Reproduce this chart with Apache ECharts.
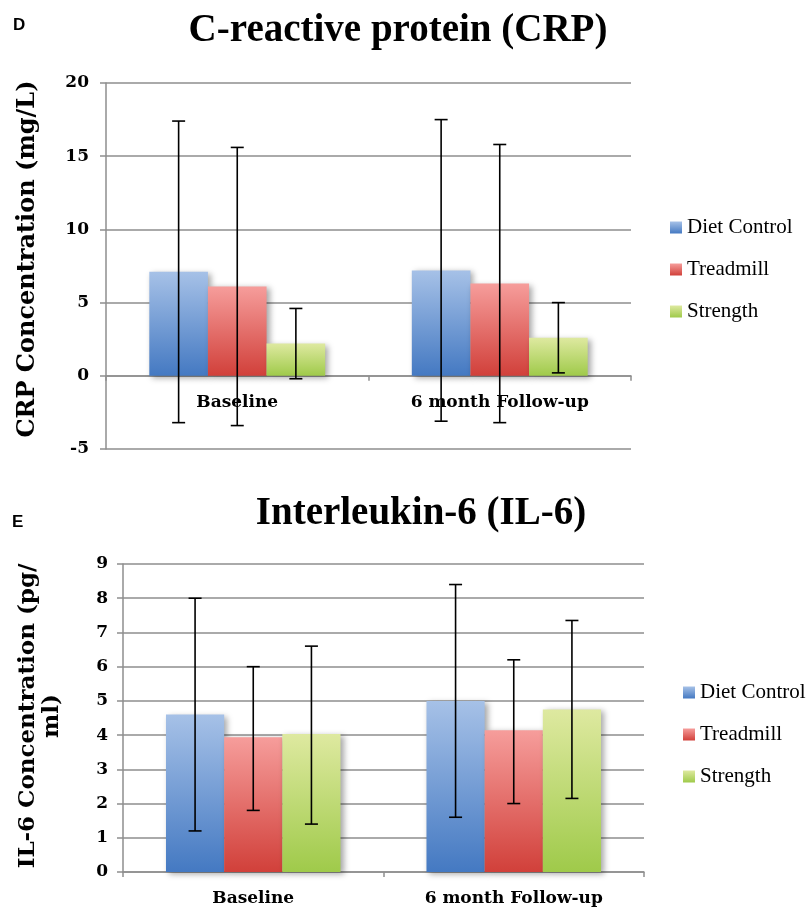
<!DOCTYPE html>
<html>
<head>
<meta charset="utf-8">
<script src="https://cdn.jsdelivr.net/npm/echarts@6/dist/echarts.min.js"></script>
<style>
  html, body { margin: 0; padding: 0; background: #fff; }
  #chart { width: 807px; height: 909px; }
</style>
</head>
<body>
<div id="chart"></div>
<script>
// Data
const categories = ['Baseline', '6 month Follow-up'];
const groups = ['Diet Control', 'Treadmill', 'Strength'];

// CRP (mg/L), one row per group: [Baseline, 6 month]
const crpMean = [[7.1, 7.2], [6.1, 6.3], [2.2, 2.6]];
const crpLow = [[-3.2, -3.1], [-3.4, -3.2], [-0.2, 0.2]];
const crpHigh = [[17.4, 17.5], [15.6, 15.8], [4.6, 5.0]];
const crpTicks = { min: -5, max: 20, interval: 5 };

// IL-6 (pg/ml)
const il6Mean = [[4.6, 5.0], [3.94, 4.14], [4.03, 4.75]];
const il6Low = [[1.2, 1.6], [1.8, 2.0], [1.4, 2.15]];
const il6High = [[8.0, 8.4], [6.0, 6.2], [6.6, 7.35]];
const il6Ticks = { min: 0, max: 9, interval: 1 };

// Style
const gradients = [['#a6c1e7', '#4479c2'], ['#f69d9b', '#d1403a'], ['#dee9a0', '#9fca4a']];
const gray = '#8e8e8e';
const catGap = 0.33;
const serifBold = 'DejaVu Serif';

function fill(i) {
    return new echarts.graphic.LinearGradient(0, 0, 0, 1, [
        { offset: 0, color: gradients[i][0] },
        { offset: 1, color: gradients[i][1] }
    ]);
}

function barSeries(means, idx) {
    return means.map((vals, i) => ({
        name: groups[i],
        type: 'bar',
        xAxisIndex: idx,
        yAxisIndex: idx,
        barGap: '0%',
        barCategoryGap: (catGap * 100) + '%',
        data: vals,
        itemStyle: {
            color: fill(i),
            shadowColor: 'rgba(0,0,0,0.35)',
            shadowBlur: 6,
            shadowOffsetX: 3,
            shadowOffsetY: 2
        },
        z: 2
    }));
}

function errorSeries(lows, highs, idx) {
    return lows.map((low, k) => ({
        name: 'err' + idx + k,
        type: 'custom',
        xAxisIndex: idx,
        yAxisIndex: idx,
        z: 5,
        data: low.map((v, c) => [c, v, highs[k][c]]),
        renderItem: (params, api) => {
            const c = api.value(0);
            const mid = api.coord([c, 0]);
            const band = api.size([1, 0])[0];
            const barW = band * (1 - catGap) / 3;
            const x = mid[0] + (k - 1) * barW;
            const y1 = api.coord([c, api.value(1)])[1];
            const y2 = api.coord([c, api.value(2)])[1];
            const cap = 6.5;
            const st = { stroke: '#000', lineWidth: 1.6 };
            return {
                type: 'group',
                children: [
                    { type: 'line', shape: { x1: x, y1: y1, x2: x, y2: y2 }, style: st },
                    { type: 'line', shape: { x1: x - cap, y1: y1, x2: x + cap, y2: y1 }, style: st },
                    { type: 'line', shape: { x1: x - cap, y1: y2, x2: x + cap, y2: y2 }, style: st }
                ]
            };
        }
    }));
}

// category names drawn just under the zero line
function categoryLabels(idx) {
    return {
        name: 'cat' + idx,
        type: 'custom',
        xAxisIndex: idx,
        yAxisIndex: idx,
        z: 3,
        silent: true,
        data: categories.map((c, i) => [i, 0]),
        renderItem: (params, api) => {
            const p = api.coord([api.value(0), api.value(1)]);
            return {
                type: 'text',
                x: p[0],
                y: p[1] + 27,
                style: {
                    text: categories[params.dataIndex],
                    font: 'bold 17px "DejaVu Serif"',
                    fill: '#000',
                    align: 'center',
                    verticalAlign: 'middle'
                }
            };
        }
    };
}

function xAxis(idx) {
    return {
        type: 'category',
        gridIndex: idx,
        data: categories,
        axisLine: { onZero: true, lineStyle: { color: gray, width: 1.5 } },
        axisTick: { show: true, length: 5, lineStyle: { color: gray, width: 1.5 } },
        axisLabel: { show: false }
    };
}

function yAxis(idx, ticks, margin) {
    return {
        type: 'value',
        gridIndex: idx,
        min: ticks.min,
        max: ticks.max,
        interval: ticks.interval,
        axisLine: { show: true, lineStyle: { color: gray, width: 1.5 } },
        axisTick: { show: true, length: 6, lineStyle: { color: gray, width: 1.5 } },
        splitLine: { show: true, lineStyle: { color: gray, width: 1.5 } },
        axisLabel: {
            margin: margin,
            fontFamily: serifBold,
            fontWeight: 'bold',
            fontSize: 17,
            color: '#000'
        }
    };
}

function legend(left, top) {
    return {
        orient: 'vertical',
        left: left,
        top: top,
        padding: 0,
        data: groups,
        icon: 'rect',
        itemWidth: 12,
        itemHeight: 12,
        itemGap: 21,
        selectedMode: false,
        textStyle: {
            fontFamily: 'Liberation Serif',
            fontSize: 21,
            lineHeight: 20,
            color: '#000',
            padding: [0, 0, 0, 0]
        }
    };
}

const chart = echarts.init(document.getElementById('chart'), null, { renderer: 'canvas' });

chart.setOption({
    animation: false,
    backgroundColor: '#fff',
    grid: [
        { left: 106, right: 176, top: 83, height: 366 },
        { left: 123, right: 163, top: 564, height: 308 }
    ],
    xAxis: [xAxis(0), xAxis(1)],
    yAxis: [yAxis(0, crpTicks, 17), yAxis(1, il6Ticks, 15)],
    legend: [legend(670, 217), legend(683, 682)],
    graphic: [
        { type: 'text', left: 13, top: 17, style: { text: 'D', font: 'bold 17px "Liberation Sans"', fill: '#000' } },
        { type: 'text', left: 12, top: 514, style: { text: 'E', font: 'bold 17px "Liberation Sans"', fill: '#000' } },
        {
            type: 'text', x: 398, y: 31,
            style: { text: 'C-reactive protein (CRP)', font: 'bold 39px "Liberation Serif"', fill: '#000', align: 'center', verticalAlign: 'middle' }
        },
        {
            type: 'text', x: 421, y: 514,
            style: { text: 'Interleukin-6 (IL-6)', font: 'bold 39px "Liberation Serif"', fill: '#000', align: 'center', verticalAlign: 'middle' }
        },
        {
            type: 'text', x: 28, y: 259, rotation: Math.PI / 2,
            style: { text: 'CRP Concentration (mg/L)', font: 'bold 24px "DejaVu Serif"', fill: '#000', align: 'center', verticalAlign: 'middle' }
        },
        {
            type: 'text', x: 40, y: 716, rotation: Math.PI / 2,
            style: { text: 'IL-6 Concentration (pg/\nml)', font: 'bold 23px "DejaVu Serif"', lineHeight: 24, fill: '#000', align: 'center', verticalAlign: 'middle' }
        }
    ],
    series: [
        ...barSeries(crpMean, 0),
        ...errorSeries(crpLow, crpHigh, 0),
        categoryLabels(0),
        ...barSeries(il6Mean, 1),
        ...errorSeries(il6Low, il6High, 1),
        categoryLabels(1)
    ]
});
</script>
</body>
</html>
